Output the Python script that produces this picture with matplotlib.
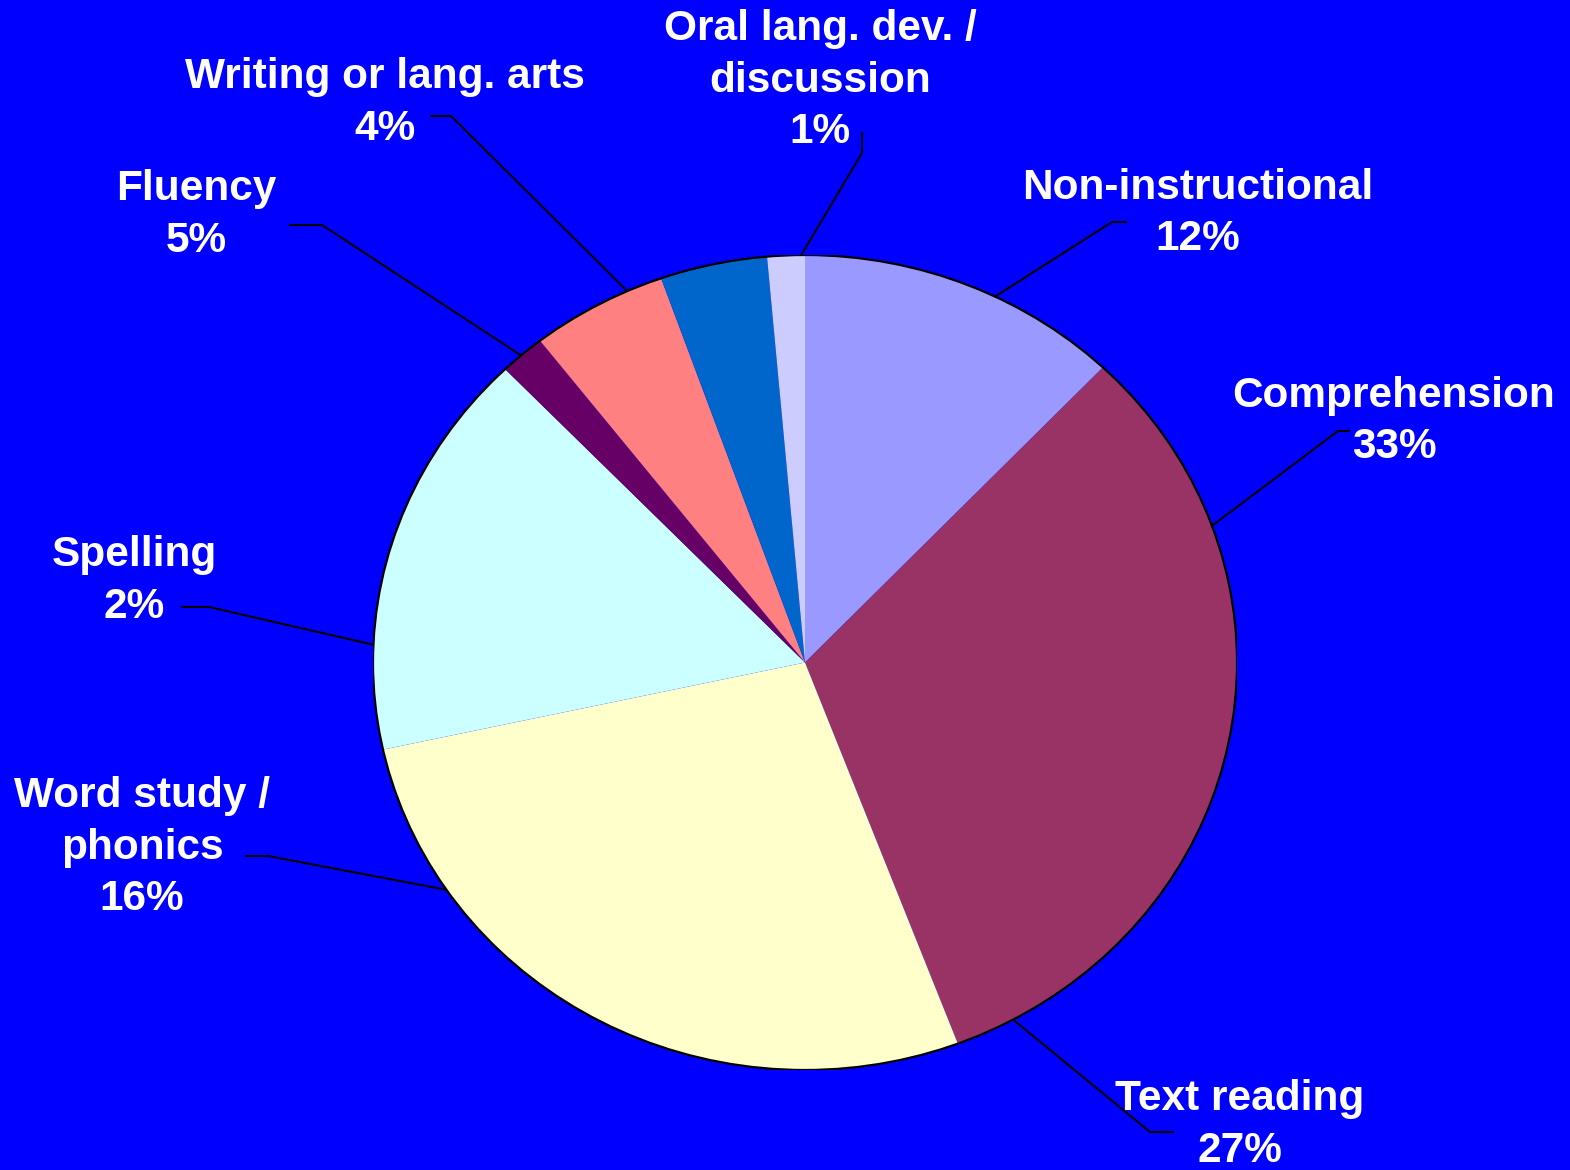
import numpy as np
import matplotlib
matplotlib.use("Agg")
import matplotlib.pyplot as plt
from matplotlib.patches import Circle

# slices, clockwise from 12 o'clock
categories = ["Non-instructional", "Comprehension", "Text reading", "Word study /\nphonics",
              "Spelling", "Fluency", "Writing or lang. arts", "Oral lang. dev. /\ndiscussion"]
# slice sizes; printed labels as shown on the chart
values = [12.1, 32.1, 27.3, 16.2, 1.7, 5.1, 4.0, 1.4]
pct_labels = ["12%", "33%", "27%", "16%", "2%", "5%", "4%", "1%"]
colors = ["#9999FF", "#993366", "#FFFFCC", "#CCFFFF", "#660066", "#FF8080", "#0066CC", "#CCCCFF"]

# label layout in image pixels: text centre x, first baseline y
label_pos = [(1198, 199), (1394, 407), (1240, 1110), (142, 807),
             (134, 566), (196, 200), (385, 88), (820, 40)]
# leader lines: start, elbow (pixels) and angle (deg clockwise from top) where they meet the pie
leader_start = [(1127, 222), (1350, 431), (1174, 1132), (245, 856),
                (181, 607), (289, 225), (430, 116), (862, 132)]
leader_elbow = [(1112, 222), (1338, 431), (1150, 1132), (268, 856),
                (209, 607), (322, 225), (451, 116), (862, 153)]
leader_angle = [26.1, 70.4, 151.2, 236.1, 272.5, 318.9, 335.7, 359.5]

W, H = 1570, 1170
bg = "#0000FF"
fig = plt.figure(figsize=(W / 100, H / 100), dpi=100, facecolor=bg)

# pie axes (slightly squashed vertically, like the source)
ax = fig.add_axes([373 / W, 100 / H, 864 / W, 815 / H])
ax.pie(values, colors=colors, startangle=90, counterclock=False,
       wedgeprops=dict(linewidth=0, antialiased=True))
ax.add_patch(Circle((0, 0), 1, fill=False, edgecolor="black", linewidth=1.6))
ax.set_aspect("auto")
ax.set_xlim(-1, 1)
ax.set_ylim(-1, 1)
ax.axis("off")

# overlay in pixel coords for labels and leader lines
ov = fig.add_axes([0, 0, 1, 1], zorder=3)
ov.set_xlim(0, W)
ov.set_ylim(H, 0)
ov.axis("off")
ov.patch.set_alpha(0)

font = dict(family=["Liberation Sans", "DejaVu Sans"], weight="bold", size=30.5, color="white")
line_gap = 51.5

for cat, pct, (tx, ty) in zip(categories, pct_labels, label_pos):
    lines = cat.split("\n") + [pct]
    for i, line in enumerate(lines):
        ov.text(tx, ty + i * line_gap, line, ha="center", va="baseline", **font)

for start, elbow, ang in zip(leader_start, leader_elbow, leader_angle):
    a = np.deg2rad(ang)
    disp = ax.transData.transform((np.sin(a), np.cos(a)))
    px, py = ov.transData.inverted().transform(disp)
    ov.plot([start[0], elbow[0], px], [start[1], elbow[1], py],
            color="black", linewidth=1.5, solid_capstyle="butt")

fig.savefig("out.png", dpi=100, facecolor=bg)
